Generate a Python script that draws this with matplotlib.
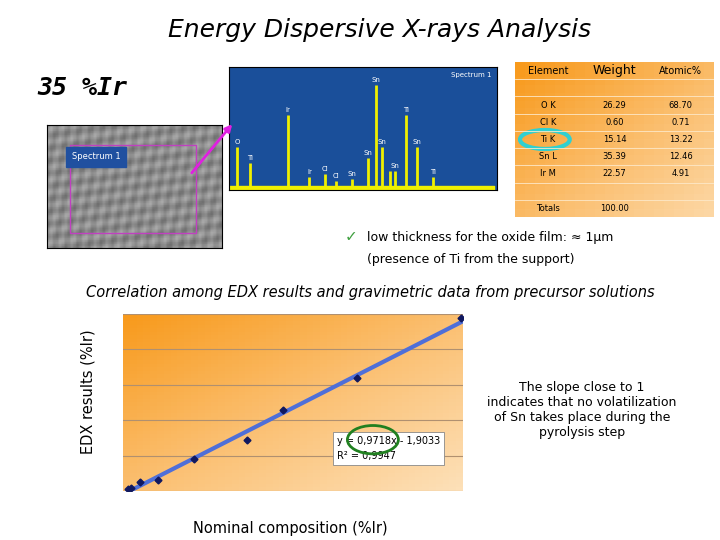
import numpy as np
import matplotlib.pyplot as plt
from matplotlib.patches import Rectangle, Ellipse, FancyArrowPatch
from matplotlib.colors import LinearSegmentedColormap

# EDX vs nominal composition (arbitrary units)
nominal = [1.5, 2.3, 5.0, 10.3, 20.8, 36.4, 47.2, 68.9, 99.4]
edx = [1.1, 1.7, 5.1, 6.2, 18.0, 28.8, 45.8, 63.8, 97.7]

# spectrum peaks (position, height) in arbitrary units
peak_pos = [3, 8, 22, 30, 36, 40, 46, 52, 55, 57, 60, 62, 66, 70, 76]
peak_h = [40, 25, 70, 12, 15, 8, 10, 30, 98, 40, 18, 18, 70, 40, 12]
peak_lbl = ['O', 'Ti', 'Ir', 'Ir', 'Cl', 'Cl', 'Sn', 'Sn', 'Sn', 'Sn', '', 'Sn', 'Ti', 'Sn', 'Ti']

tab_cols = ['Element', 'Weight', 'Atomic%']
tab_rows = [['', '', ''], ['O K', '26.29', '68.70'], ['Cl K', '0.60', '0.71'],
            ['Ti K', '15.14', '13.22'], ['Sn L', '35.39', '12.46'],
            ['Ir M', '22.57', '4.91'], ['', '', ''], ['Totals', '100.00', '']]

orange = LinearSegmentedColormap.from_list('or', ['#f89a1c', '#fbbf70', '#fde0b8'])

W, H = 720, 540
fig = plt.figure(figsize=(7.2, 5.4), dpi=100)

def box(x0, y0, x1, y1):
    return [x0 / W, 1 - y1 / H, (x1 - x0) / W, (y1 - y0) / H]

fig.text(380 / W, 1 - 30 / H, 'Energy Dispersive X-rays Analysis', ha='center', va='center',
         fontsize=18, style='italic')
fig.text(37 / W, 1 - 88 / H, '35 %Ir', fontsize=18, style='italic', weight='bold',
         family='DejaVu Sans Mono', va='center')

# SEM image placeholder
sem = fig.add_axes(box(47, 125, 222, 248))
g = np.linspace(0, 1, 60)
sem.imshow(0.55 + 0.12 * np.sin(np.add.outer(g * 37, g * 53)) *
           np.cos(np.add.outer(g * 23, -g * 41)), cmap='gray', vmin=0, vmax=1,
           aspect='auto', extent=(0, 1, 0, 1))
sem.add_patch(Rectangle((0.13, 0.12), 0.72, 0.72, fill=False, ec='#c040c0', lw=1))
sem.text(0.14, 0.72, 'Spectrum 1', color='white', fontsize=6, backgroundcolor='#2050a0')
sem.set_xticks([]); sem.set_yticks([])

fig.patches.append(FancyArrowPatch((190 / W, 1 - 175 / H), (234 / W, 1 - 122 / H),
                                   transform=fig.transFigure, color='#e020e0', lw=2,
                                   arrowstyle='-|>', mutation_scale=10))

# spectrum
sp = fig.add_axes(box(229, 67, 497, 190))
sp.set_facecolor('#1a4f9a')
sp.vlines(peak_pos, 0, peak_h, color='#f0f000', lw=2)
sp.fill_between(np.arange(0, 100), 0, 4, color='#f0f000')
for p, h, l in zip(peak_pos, peak_h, peak_lbl):
    sp.text(p, h + 3, l, color='white', fontsize=5, ha='center')
sp.text(98, 106, 'Spectrum 1', color='white', fontsize=5, ha='right')
sp.set_xlim(0, 100); sp.set_ylim(0, 115)
sp.set_xticks([]); sp.set_yticks([])

# composition table
tb = fig.add_axes(box(515, 62, 714, 217))
tb.set_xlim(0, 3); tb.set_ylim(9, 0)
tb.imshow(np.add.outer(np.linspace(0, 0.6, 20), np.linspace(0, 0.6, 20)), cmap=orange,
          extent=(0, 3, 9, 0), aspect='auto', vmin=0, vmax=1.4)
for j, c in enumerate(tab_cols):
    tb.text(j + 0.5, 0.5, c, ha='center', va='center', fontsize=7 if j != 1 else 9)
for i, row in enumerate(tab_rows):
    for j, v in enumerate(row):
        tb.text(j + 0.5, i + 1.5, v, ha='center', va='center', fontsize=6)
for i in range(1, 9):
    tb.axhline(i, color='#fde8c8', lw=0.6)
tb.add_patch(Ellipse((0.45, 4.5), 0.75, 1.1, fill=False, ec='#30d0d0', lw=3))
tb.axis('off')

fig.text(345 / W, 1 - 237 / H, '✓', color='#40a040', fontsize=11, va='center')
fig.text(367 / W, 1 - 237 / H, 'low thickness for the oxide film: ≈ 1μm', fontsize=9, va='center')
fig.text(367 / W, 1 - 259 / H, '(presence of Ti from the support)', fontsize=9, va='center')
fig.text(370 / W, 1 - 293 / H, 'Correlation among EDX results and gravimetric data from precursor solutions',
         ha='center', va='center', fontsize=10.5, style='italic')

# correlation chart
ax = fig.add_axes(box(123, 314, 463, 491))
ax.imshow(np.add.outer(np.linspace(0, 1, 50), np.linspace(0, 1, 50)), cmap=orange,
          extent=(0, 100, 0, 100), aspect='auto', vmin=0, vmax=2, origin='upper')
k, b = np.polyfit(nominal, edx, 1)
xs = np.array([min(nominal), max(nominal)])
ax.plot(xs, k * xs + b, color='#4f6fd8', lw=3)
ax.plot(nominal, edx, 'D', color='#101860', ms=3.5)
ax.set_xlim(0, 100); ax.set_ylim(0, 100)
ax.set_yticks([0, 20, 40, 60, 80, 100])
ax.yaxis.grid(True, color='#b09070', lw=0.8)
ax.set_xticklabels([]); ax.set_yticklabels([])
ax.tick_params(length=0)
for s in ax.spines.values():
    s.set_visible(False)
ax.text(0.63, 0.24, 'y = 0,9718x - 1,9033\nR² = 0,9947', transform=ax.transAxes, fontsize=7,
        va='center', ha='left', linespacing=1.6,
        bbox=dict(fc='white', ec='#888888', lw=0.6, boxstyle='square,pad=0.4'))
ax.add_patch(Ellipse((0.735, 0.29), 0.15, 0.16, transform=ax.transAxes, fill=False,
                     ec='#208020', lw=2, zorder=10))

fig.text(88 / W, 1 - 392 / H, 'EDX results (%Ir)', rotation=90, ha='center', va='center', fontsize=10.5)
fig.text(290 / W, 1 - 528 / H, 'Nominal composition (%Ir)', ha='center', va='center', fontsize=10.5)
fig.text(582 / W, 1 - 410 / H, 'The slope close to 1\nindicates that no volatilization\nof Sn takes place during the\npyrolysis step',
         ha='center', va='center', fontsize=9)

fig.savefig('out.png', dpi=100)
